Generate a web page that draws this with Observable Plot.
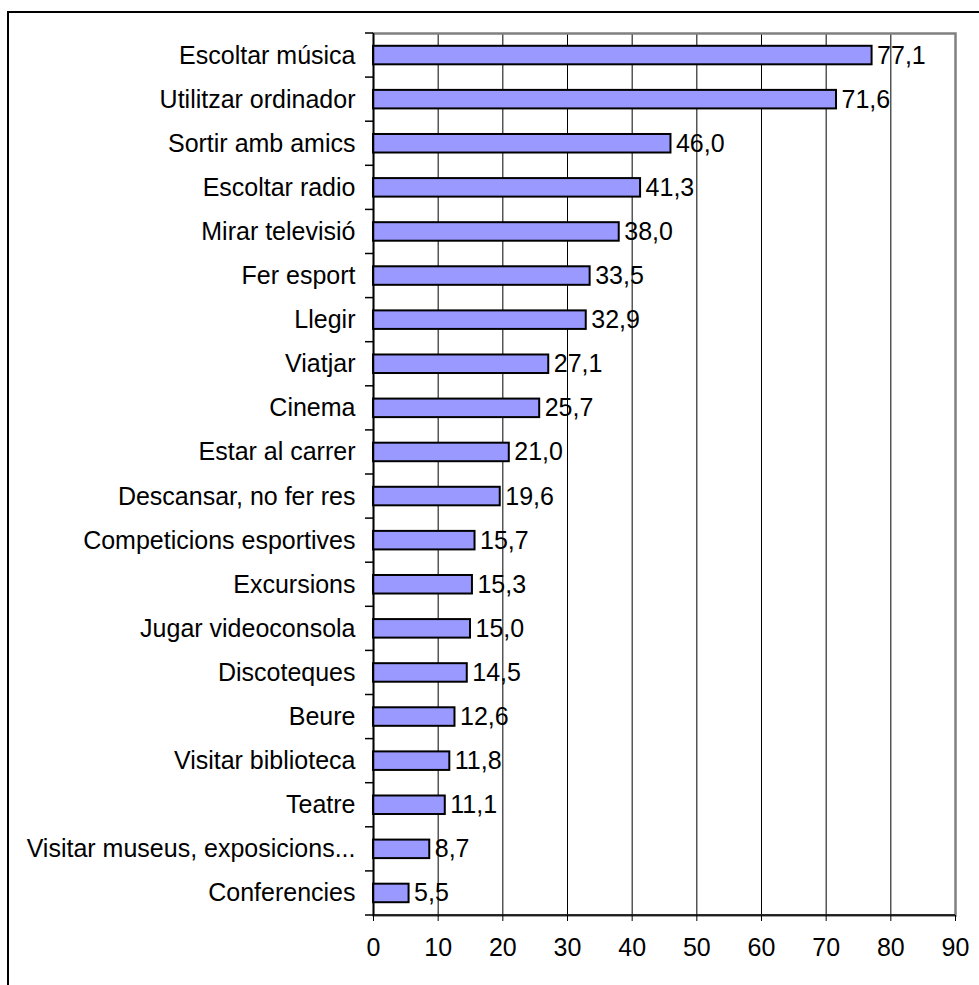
<!DOCTYPE html>
<html>
<head>
<meta charset="utf-8">
<script src="https://cdn.jsdelivr.net/npm/d3@7"></script>
<script src="https://cdn.jsdelivr.net/npm/@observablehq/plot@0.6"></script>
<style>
  html, body { margin: 0; padding: 0; background: #fff; overflow: hidden; }
  #frame { position: absolute; left: 7px; top: 11px; width: 1100px; height: 1100px; border: 2px solid #000; }
  #chart { position: absolute; left: 0; top: 0; }
</style>
</head>
<body>
<div id="frame"></div>
<div id="chart"></div>
<script>
const categories = [
  "Escoltar música", "Utilitzar ordinador", "Sortir amb amics", "Escoltar radio",
  "Mirar televisió", "Fer esport", "Llegir", "Viatjar", "Cinema", "Estar al carrer",
  "Descansar, no fer res", "Competicions esportives", "Excursions", "Jugar videoconsola",
  "Discoteques", "Beure", "Visitar biblioteca", "Teatre", "Visitar museus, exposicions...",
  "Conferencies"
];
const values = [77.1, 71.6, 46.0, 41.3, 38.0, 33.5, 32.9, 27.1, 25.7, 21.0,
  19.6, 15.7, 15.3, 15.0, 14.5, 12.6, 11.8, 11.1, 8.7, 5.5];
const xTicks = [0, 10, 20, 30, 40, 50, 60, 70, 80, 90];

const data = categories.map((c, i) => ({category: c, value: values[i]}));
const fmt = v => v.toFixed(1).replace(".", ",");
const FONT = "'Liberation Sans', Arial, sans-serif";
const FS = 25;
const PAD = 0.58;

const plot = Plot.plot({
  width: 979,
  height: 985,
  marginTop: 33,
  marginLeft: 373,
  marginRight: 24,
  marginBottom: 70,
  style: {fontFamily: FONT, fontSize: FS + "px", color: "#000", background: "transparent"},
  x: {domain: [0, 90], ticks: xTicks, label: null},
  y: {domain: categories, paddingInner: PAD, paddingOuter: PAD / 2, round: false, label: null},
  marks: [
    Plot.gridX(xTicks.filter(t => t > 0 && t < 90), {stroke: "#000", strokeOpacity: 1, strokeWidth: 1}),
    Plot.frame({stroke: "#808080", strokeOpacity: 1, strokeWidth: 2.5}),
    Plot.barX(data, {y: "category", x: "value", fill: "#9999ff", stroke: "#000", strokeWidth: 2}),
    Plot.text(data, {y: "category", x: "value", text: d => fmt(d.value), textAnchor: "start", dx: 5, fontSize: FS, fill: "#000"}),
    Plot.ruleX([0], {stroke: "#000", strokeWidth: 1.5}),
    Plot.axisX({ticks: xTicks, tickSize: 6, tickPadding: 17, tickFormat: d => String(d), fontSize: FS}),
    Plot.axisY({tickSize: 0, tickPadding: 18, fontSize: FS})
  ]
});

// band-boundary ticks on the y axis and the x axis line, placed through the plot's own scales
const ys = plot.scale("y");
const xs = plot.scale("x");
const x0 = xs.apply(0), x1 = xs.apply(90);
const step = ys.step, bw = ys.bandwidth;
const bounds = categories.map(c => ys.apply(c) - (step - bw) / 2);
bounds.push(ys.apply(categories[categories.length - 1]) + bw + (step - bw) / 2);
const g = d3.select(plot).append("g").attr("stroke", "#000").attr("stroke-width", 1.5);
bounds.forEach(b => g.append("line").attr("x1", x0 - 8).attr("x2", x0).attr("y1", b).attr("y2", b));
const yb = bounds[bounds.length - 1];
g.append("line").attr("x1", x0).attr("x2", x1).attr("y1", yb).attr("y2", yb);

document.getElementById("chart").appendChild(plot);
</script>
</body>
</html>
